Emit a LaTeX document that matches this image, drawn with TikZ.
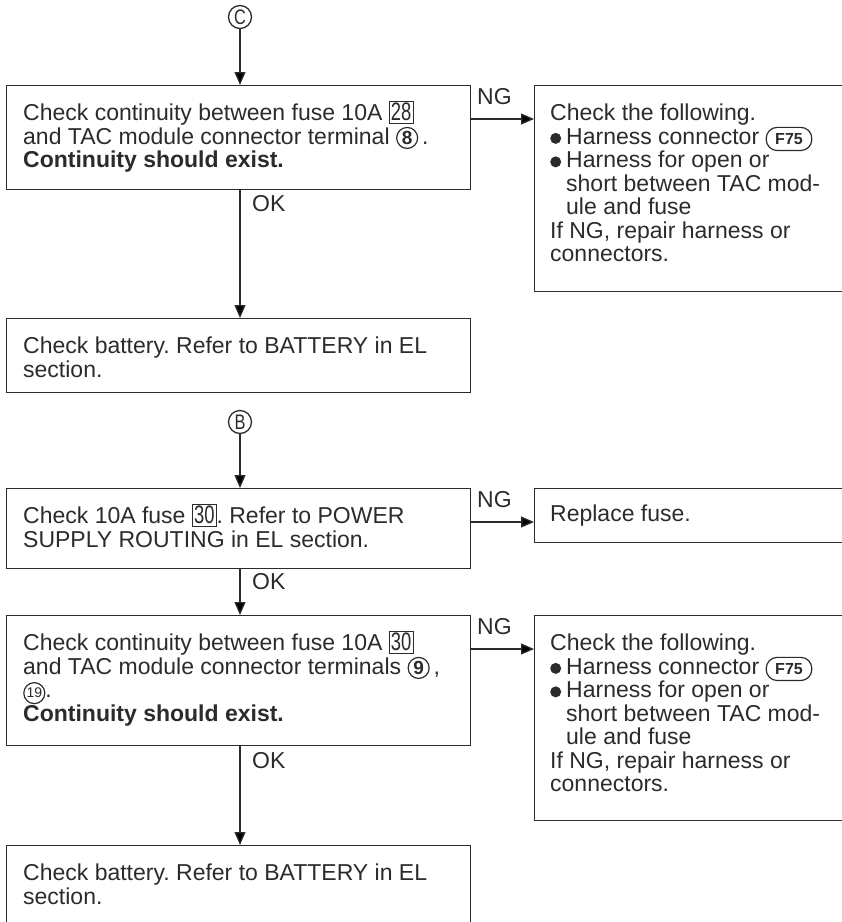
\documentclass[tikz,border=0pt]{standalone}
\usepackage{fontspec}
\setmainfont{Liberation Sans}
\usepackage{graphicx}
\usetikzlibrary{arrows.meta}
\definecolor{ink}{rgb}{0.17,0.17,0.17}
\frenchspacing
\tikzset{
  stepbox/.style={draw=ink, line width=1.4pt, anchor=north west, inner sep=0pt},
  boxtext/.style={anchor=north west, inner sep=0pt, align=left, text=ink,
    font=\fontsize{23}{23.5}\selectfont},
  flow/.style={draw=ink, line width=1.3pt, -{Triangle[length=13pt,width=11pt]}},
  tag/.style={anchor=north west, inner sep=0pt, text=ink,
    font=\fontsize{23}{23.5}\selectfont},
  refcirc/.style={circle, draw=ink, line width=1.3pt, inner sep=0pt,
    minimum size=23pt, text=ink, font=\fontsize{21}{21}\selectfont},
}
% fuse number in a thin frame
\newcommand{\fusenum}[1]{{\fboxsep=1.3pt\fboxrule=0.8pt\fcolorbox{ink}{white}{\scalebox{0.8}[1.1]{#1}}}}
% circled terminal number
\newcommand{\termnum}[2]{\tikz[baseline=(t.base)]\node[circle,draw=ink,line width=1.2pt,
  inner sep=0pt,minimum width=21pt,minimum height=21pt,text=ink,font=#1](t){#2};}
% connector symbol
\newcommand{\conn}[1]{\tikz[baseline=(f.base)]\node[draw=ink,line width=1.2pt,
  rounded corners=11pt,inner xsep=9pt,inner ysep=6pt,text=ink,
  font=\bfseries\fontsize{16}{16}\selectfont](f){#1};}
% bullet dot
\newcommand{\blt}{\tikz[baseline=0pt]\fill[ink] (0,6pt) circle (5.5pt);\hspace{5pt}}
\newcommand{\hang}{\phantom{\blt}}
\newcommand{\narrow}[1]{\scalebox{0.78}[1]{#1}}

\begin{document}
\begin{tikzpicture}[x=1pt,y=-1pt]
\useasboundingbox (0,0) rectangle (842,922);
\clip (0,0) rectangle (842,922);

% --- from C
\node[refcirc] (cC) at (240,17) {\narrow{C}};
\node[stepbox, minimum width=464pt, minimum height=104pt] (chk1) at (6,85) {};
\node[boxtext] (chk1t) at (23,101) {Check continuity between fuse 10A \fusenum{28}\\
  and TAC module connector terminal \termnum{\bfseries\fontsize{19}{19}\selectfont}{8}\,.\\
  \textbf{Continuity should exist.}};
\node[stepbox, minimum width=340pt, minimum height=206pt] (ng1) at (534,85) {};
\node[boxtext] (ng1t) at (550,104) {Check the following.\\
  \blt Harness connector \conn{F75}\\
  \blt Harness for open or\\
  \hang short between TAC mod-\\
  \hang ule and fuse\\
  If NG, repair harness or\\
  connectors.};
\node[stepbox, minimum width=464pt, minimum height=74pt] (bat1) at (6,318) {};
\node[boxtext] (bat1t) at (23,337) {Check battery. Refer to BATTERY in EL\\ section.};

\draw[flow] (cC) -- (cC |- chk1.north);
\draw[flow] ([yshift=-34pt]chk1.north east) -- ([yshift=-34pt]ng1.north west);
\node[tag] (ngl1) at (477,88) {NG};
\draw[flow] (chk1.south -| cC) -- (bat1.north -| cC);
\node[tag] (okl1) at (252,195) {OK};

% --- from B
\node[refcirc] (cB) at (240,422) {\narrow{B}};
\node[stepbox, minimum width=464pt, minimum height=80pt] (fuse) at (6,488) {};
\node[boxtext] (fuset) at (23,504) {Check 10A fuse \fusenum{30}. Refer to POWER\\
  SUPPLY ROUTING in EL section.};
\node[stepbox, minimum width=340pt, minimum height=54pt] (repl) at (534,488) {};
\node[boxtext] (replt) at (550,505) {Replace fuse.};
\node[stepbox, minimum width=464pt, minimum height=130pt] (chk2) at (6,615) {};
\node[boxtext] (chk2t) at (23,631) {Check continuity between fuse 10A \fusenum{30}\\
  and TAC module connector terminals \termnum{\bfseries\fontsize{19}{19}\selectfont}{9}\,,\\
  \termnum{\fontsize{14}{14}\selectfont}{19}.\\
  \textbf{Continuity should exist.}};
\node[stepbox, minimum width=340pt, minimum height=205pt] (ng2) at (534,615) {};
\node[boxtext] (ng2t) at (550,634) {Check the following.\\
  \blt Harness connector \conn{F75}\\
  \blt Harness for open or\\
  \hang short between TAC mod-\\
  \hang ule and fuse\\
  If NG, repair harness or\\
  connectors.};
\node[stepbox, minimum width=464pt, minimum height=120pt] (bat2) at (6,845) {};
\node[boxtext] (bat2t) at (23,864) {Check battery. Refer to BATTERY in EL\\ section.};

\draw[flow] (cB) -- (cB |- fuse.north);
\draw[flow] ([yshift=-34pt]fuse.north east) -- ([yshift=-34pt]repl.north west);
\node[tag] (ngl2) at (477,491) {NG};
\draw[flow] (fuse.south -| cB) -- (chk2.north -| cB);
\node[tag] (okl2) at (252,573) {OK};
\draw[flow] ([yshift=-34pt]chk2.north east) -- ([yshift=-34pt]ng2.north west);
\node[tag] (ngl3) at (477,618) {NG};
\draw[flow] (chk2.south -| cB) -- (bat2.north -| cB);
\node[tag] (okl3) at (252,752) {OK};
\end{tikzpicture}
\end{document}
